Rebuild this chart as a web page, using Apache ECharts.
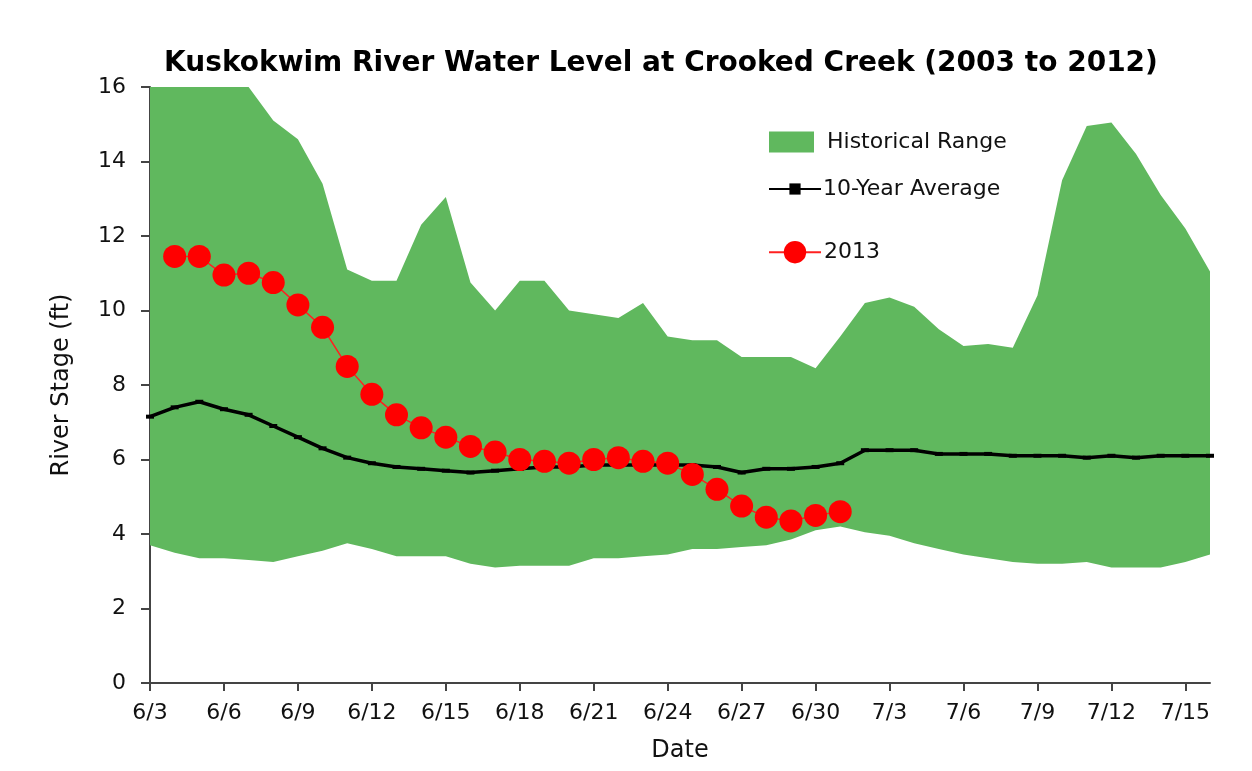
<!DOCTYPE html>
<html>
<head>
<meta charset="utf-8">
<title>Kuskokwim River Water Level</title>
<script src="https://cdn.jsdelivr.net/npm/echarts@6/dist/echarts.min.js"></script>
<style>
  html, body { margin: 0; padding: 0; background: #fff; }
  #chart { width: 1252px; height: 771px; }
</style>
</head>
<body>
<div id="chart"></div>
<script>
// dates on the x axis
const dates = [
  "6/3", "6/4", "6/5", "6/6", "6/7", "6/8", "6/9", "6/10", "6/11", "6/12",
  "6/13", "6/14", "6/15", "6/16", "6/17", "6/18", "6/19", "6/20", "6/21", "6/22",
  "6/23", "6/24", "6/25", "6/26", "6/27", "6/28", "6/29", "6/30", "7/1", "7/2",
  "7/3", "7/4", "7/5", "7/6", "7/7", "7/8", "7/9", "7/10", "7/11", "7/12",
  "7/13", "7/14", "7/15", "7/16"
];

// historical range, top and bottom (ft)
const histHigh = [
  17.5, 17.2, 16.9, 16.5, 16.0, 15.1, 14.6, 13.4, 11.1, 10.8,
  10.8, 12.3, 13.05, 10.75, 10.0, 10.8, 10.8, 10.0, 9.9, 9.8,
  10.2, 9.3, 9.2, 9.2, 8.75, 8.75, 8.75, 8.45, 9.3, 10.2,
  10.35, 10.1, 9.5, 9.05, 9.1, 9.0, 10.4, 13.5, 14.95, 15.05,
  14.2, 13.1, 12.2, 11.05
];
const histLow = [
  3.7, 3.5, 3.35, 3.35, 3.3, 3.25, 3.4, 3.55, 3.75, 3.6,
  3.4, 3.4, 3.4, 3.2, 3.1, 3.15, 3.15, 3.15, 3.35, 3.35,
  3.4, 3.45, 3.6, 3.6, 3.65, 3.7, 3.85, 4.1, 4.2, 4.05,
  3.95, 3.75, 3.6, 3.45, 3.35, 3.25, 3.2, 3.2, 3.25, 3.1,
  3.1, 3.1, 3.25, 3.45
];

// 10-year average (ft)
const avg10 = [
  7.15, 7.4, 7.55, 7.35, 7.2, 6.9, 6.6, 6.3, 6.05, 5.9,
  5.8, 5.75, 5.7, 5.65, 5.7, 5.75, 5.8, 5.8, 5.85, 5.85,
  5.85, 5.85, 5.85, 5.8, 5.65, 5.75, 5.75, 5.8, 5.9, 6.25,
  6.25, 6.25, 6.15, 6.15, 6.15, 6.1, 6.1, 6.1, 6.05, 6.1,
  6.05, 6.1, 6.1, 6.1
];

// 2013 readings (ft), 6/4 to 7/1
const y2013 = [
  null, 11.45, 11.45, 10.95, 11.0, 10.75, 10.15, 9.55, 8.5, 7.75,
  7.2, 6.85, 6.6, 6.35, 6.2, 6.0, 5.95, 5.9, 6.0, 6.05,
  5.95, 5.9, 5.6, 5.2, 4.75, 4.45, 4.35, 4.5, 4.6
];

const yTicks = [0, 2, 4, 6, 8, 10, 12, 14, 16];

const green = "#60b85e";
const font = "DejaVu Sans";

const chart = echarts.init(document.getElementById("chart"));

chart.setOption({
  animation: false,
  backgroundColor: "#fff",
  title: {
    text: "Kuskokwim River Water Level at Crooked Creek (2003 to 2012)",
    left: 656,
    textAlign: "center",
    top: 45,
    textStyle: { fontFamily: font, fontSize: 28, fontWeight: "bold", color: "#000" }
  },
  legend: [
    {
      left: 764, top: 126, itemWidth: 45, itemHeight: 21,
      data: [{ name: "Historical Range", icon: "rect", itemStyle: { color: green } }],
      textStyle: { fontFamily: font, fontSize: 22, color: "#111", padding: [0, 0, 0, 8] }
    },
    {
      left: 763, top: 173, itemWidth: 52, itemHeight: 14,
      data: ["10-Year Average"],
      textStyle: { fontFamily: font, fontSize: 22, color: "#111", padding: [0, 0, 0, -3] }
    },
    {
      left: 763, top: 236, itemWidth: 52, itemHeight: 28,
      data: ["2013"],
      textStyle: { fontFamily: font, fontSize: 22, color: "#111", padding: [0, 0, 0, -2] }
    }
  ],
  grid: { left: 150, right: 42, top: 87, bottom: 88 },
  xAxis: {
    type: "category",
    data: dates,
    boundaryGap: false,
    name: "Date",
    nameLocation: "middle",
    nameGap: 56,
    nameTextStyle: { fontFamily: font, fontSize: 24, color: "#111" },
    axisLine: { lineStyle: { color: "#444", width: 2 } },
    axisTick: { interval: 2, length: 8, lineStyle: { color: "#444", width: 2 } },
    axisLabel: { interval: 2, margin: 19, fontFamily: font, fontSize: 22, color: "#111" },
    splitLine: { show: false }
  },
  yAxis: {
    type: "value",
    min: yTicks[0],
    max: yTicks[yTicks.length - 1],
    interval: 2,
    name: "River Stage (ft)",
    nameLocation: "middle",
    nameGap: 76,
    nameTextStyle: { fontFamily: font, fontSize: 24, color: "#111" },
    axisLine: { show: true, lineStyle: { color: "#444", width: 2 } },
    axisTick: { show: true, length: 9, lineStyle: { color: "#444", width: 2 } },
    axisLabel: { margin: 24, fontFamily: font, fontSize: 22, color: "#111" },
    splitLine: { show: false }
  },
  series: [
    {
      name: "low",
      type: "line",
      stack: "hist",
      data: histLow,
      symbol: "none",
      lineStyle: { width: 0, opacity: 0 },
      silent: true
    },
    {
      name: "Historical Range",
      type: "line",
      stack: "hist",
      data: histHigh.map((v, i) => +(v - histLow[i]).toFixed(2)),
      symbol: "none",
      itemStyle: { color: green },
      lineStyle: { width: 0, opacity: 0 },
      areaStyle: { color: green, opacity: 1 },
      silent: true
    },
    {
      name: "10-Year Average",
      type: "line",
      data: avg10,
      symbol: "rect",
      symbolSize: [8, 4],
      showAllSymbol: true,
      itemStyle: { color: "#000" },
      lineStyle: { color: "#000", width: 3.5 },
      z: 3
    },
    {
      name: "2013",
      type: "line",
      data: y2013,
      symbol: "circle",
      symbolSize: 23,
      showAllSymbol: true,
      itemStyle: { color: "#ff0000" },
      lineStyle: { color: "#ff2020", width: 1.5 },
      z: 4
    }
  ]
});
</script>
</body>
</html>
